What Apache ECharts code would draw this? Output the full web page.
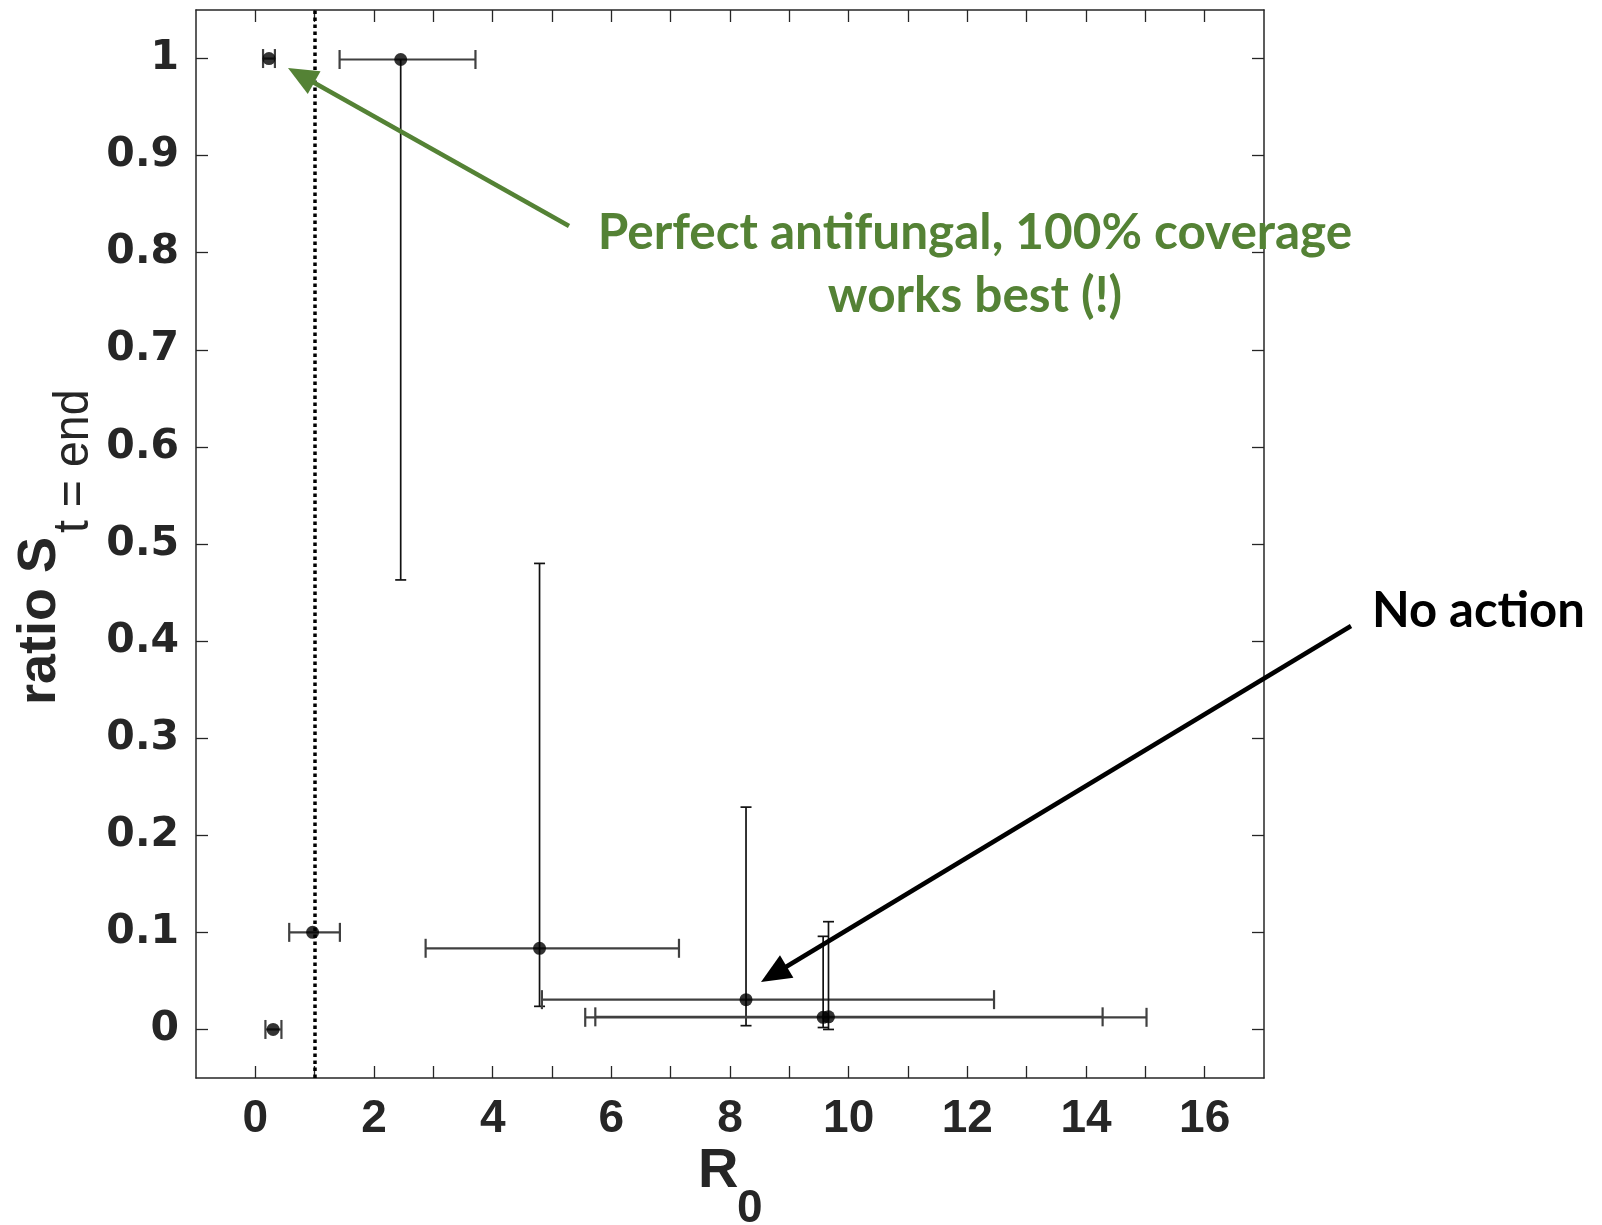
<!DOCTYPE html>
<html>
<head>
<meta charset="utf-8">
<title>ratio S vs R0</title>
<script src="https://cdn.jsdelivr.net/npm/echarts@6/dist/echarts.min.js"></script>
<style>
  html, body { margin: 0; padding: 0; background: #ffffff; }
  #chart { width: 1602px; height: 1225px; }
</style>
</head>
<body>
<div id="chart"></div>
<script>
// Scenario results: basic reproduction number R0 vs. final susceptible ratio
const r0      = [0.23, 2.45, 0.965, 0.30, 4.79, 8.27, 9.57, 9.66];
const ratio   = [1.00, 0.999, 0.100, 0.000, 0.0836, 0.0307, 0.0125, 0.0130];
// horizontal error bar extents (R0)
const r0Lo    = [0.13, 1.42, 0.571, 0.17, 2.87, 4.83, 5.56, 5.73];
const r0Hi    = [0.33, 3.71, 1.425, 0.44, 7.14, 12.45, 15.02, 14.28];
// vertical error bar extents (ratio)
const ratioLo = [1.00, 0.463, 0.100, 0.000, 0.0238, 0.0039, 0.002, 0.000];
const ratioHi = [1.00, 0.999, 0.100, 0.000, 0.480, 0.229, 0.0959, 0.111];

// epidemic threshold
const threshold = 1;

// axis ticks and labels
const xTicks  = [0, 1, 2, 3, 4, 5, 6, 7, 8, 9, 10, 11, 12, 13, 14, 15, 16];
const xLabels = [0, 2, 4, 6, 8, 10, 12, 14, 16];
const yTicks  = [0, 0.1, 0.2, 0.3, 0.4, 0.5, 0.6, 0.7, 0.8, 0.9, 1];

const axisColor = '#262626';
const xTickFont = { fontFamily: 'Liberation Sans', fontWeight: 'bold', fontSize: 46, color: axisColor };
const yTickFont = { fontFamily: 'DejaVu Sans', fontWeight: 'bold', fontSize: 41, color: axisColor };

const points = r0.map((x, i) => [x, ratio[i]]);
const bars = r0.map((x, i) => [x, ratio[i], r0Lo[i], r0Hi[i], ratioLo[i], ratioHi[i]]);

function renderErrorBar(params, api) {
  const x = api.value(0), y = api.value(1);
  const xl = api.value(2), xh = api.value(3);
  const yl = api.value(4), yh = api.value(5);
  const c = api.coord([x, y]);
  const pL = api.coord([xl, y]), pR = api.coord([xh, y]);
  const pB = api.coord([x, yl]), pT = api.coord([x, yh]);
  const hStyle = { stroke: '#404040', lineWidth: 2.2 };
  const vStyle = { stroke: '#111111', lineWidth: 1.7 };
  const capH = 9.5, capV = 5.5;
  const kids = [];
  if (xh > xl) {
    kids.push({ type: 'line', shape: { x1: pL[0], y1: c[1], x2: pR[0], y2: c[1] }, style: hStyle });
    kids.push({ type: 'line', shape: { x1: pL[0], y1: c[1] - capH, x2: pL[0], y2: c[1] + capH }, style: hStyle });
    kids.push({ type: 'line', shape: { x1: pR[0], y1: c[1] - capH, x2: pR[0], y2: c[1] + capH }, style: hStyle });
  }
  if (yh > yl) {
    kids.push({ type: 'line', shape: { x1: c[0], y1: pB[1], x2: c[0], y2: pT[1] }, style: vStyle });
    if (yl < y) kids.push({ type: 'line', shape: { x1: c[0] - capV, y1: pB[1], x2: c[0] + capV, y2: pB[1] }, style: vStyle });
    if (yh > y) kids.push({ type: 'line', shape: { x1: c[0] - capV, y1: pT[1], x2: c[0] + capV, y2: pT[1] }, style: vStyle });
  }
  return { type: 'group', children: kids };
}

// straight arrow with a filled triangular head
function arrow(x1, y1, x2, y2, color, width, headLen, headHalf) {
  const dx = x2 - x1, dy = y2 - y1;
  const len = Math.sqrt(dx * dx + dy * dy);
  const ux = dx / len, uy = dy / len;
  const bx = x2 - ux * headLen, by = y2 - uy * headLen;
  const nx = -uy, ny = ux;
  return [
    { type: 'line', shape: { x1: x1, y1: y1, x2: bx + ux * 2, y2: by + uy * 2 }, style: { stroke: color, lineWidth: width }, z: 50 },
    { type: 'polygon', shape: { points: [[x2, y2], [bx + nx * headHalf, by + ny * headHalf], [bx - nx * headHalf, by - ny * headHalf]] }, style: { fill: color }, z: 50 }
  ];
}

const green = '#548235';

const chart = echarts.init(document.getElementById('chart'), null, { renderer: 'canvas' });

const baseX = {
  type: 'value', min: -1, max: 17,
  splitLine: { show: false },
  axisLine: { show: true, onZero: false, lineStyle: { color: axisColor, width: 1.5 } },
  axisTick: { show: true, inside: true, length: 12, customValues: xTicks, lineStyle: { color: axisColor, width: 1.3 } }
};
const baseY = {
  type: 'value', min: -0.05, max: 1.05,
  splitLine: { show: false },
  axisLine: { show: true, onZero: false, lineStyle: { color: axisColor, width: 1.5 } },
  axisTick: { show: true, inside: true, length: 12, customValues: yTicks, lineStyle: { color: axisColor, width: 1.3 } }
};

chart.setOption({
  animation: false,
  backgroundColor: '#ffffff',
  grid: { left: 196, top: 10, width: 1068, height: 1068, containLabel: false },
  xAxis: [
    Object.assign({}, baseX, {
      position: 'bottom',
      axisLabel: Object.assign({ margin: 18, customValues: xLabels, formatter: v => String(Math.round(v)) }, xTickFont)
    }),
    Object.assign({}, baseX, { position: 'top', axisLabel: { show: false } })
  ],
  yAxis: [
    Object.assign({}, baseY, {
      position: 'left',
      axisLabel: Object.assign({ margin: 17, customValues: yTicks, formatter: v => String(+v.toFixed(1)) }, yTickFont)
    }),
    Object.assign({}, baseY, { position: 'right', axisLabel: { show: false } })
  ],
  series: [
    {
      type: 'custom',
      name: 'error',
      renderItem: renderErrorBar,
      data: bars,
      encode: { x: 0, y: 1 },
      z: 3,
      silent: true,
      markLine: {
        silent: true,
        symbol: ['none', 'none'],
        label: { show: false },
        lineStyle: { color: '#000000', width: 3.5, type: [3.5, 3.5] },
        data: [{ xAxis: threshold }]
      }
    },
    {
      type: 'scatter',
      name: 'mean',
      data: points,
      symbol: 'circle',
      symbolSize: 13,
      itemStyle: { color: '#000000' },
      z: 5
    }
  ],
  graphic: [
    // y-axis title: ratio S_{t = end}
    {
      type: 'group', x: 67, y: 705, rotation: Math.PI / 2,
      children: [
        { type: 'text', x: 0, y: 0, style: { text: 'ratio S', font: 'bold 54px "Liberation Sans"', fill: axisColor, align: 'left', verticalAlign: 'bottom' } },
        { type: 'text', x: 172, y: 32, scaleX: 0.93, style: { text: 't = end', font: '50px "Liberation Sans"', fill: axisColor, align: 'left', verticalAlign: 'bottom' } }
      ]
    },
    // x-axis title: R_0
    { type: 'text', x: 698, y: 1200, style: { text: 'R', font: 'bold 56px "Liberation Sans"', fill: axisColor, align: 'left', verticalAlign: 'bottom' } },
    { type: 'text', x: 737, y: 1232, style: { text: '0', font: 'bold 46px "Liberation Sans"', fill: axisColor, align: 'left', verticalAlign: 'bottom' } },
    // annotations
    { type: 'text', x: 975, y: 233, z: 60, style: { text: 'Perfect antifungal, 100% coverage', font: 'bold 49.5px Lato', fill: green, align: 'center', verticalAlign: 'middle' } },
    { type: 'text', x: 975, y: 296, z: 60, style: { text: 'works best (!)', font: 'bold 49.5px Lato', fill: green, align: 'center', verticalAlign: 'middle' } },
    { type: 'text', x: 1372, y: 611, z: 60, style: { text: 'No action', font: 'bold 49px Lato', fill: '#000000', align: 'left', verticalAlign: 'middle' } }
  ].concat(arrow(569, 226, 288, 68, green, 4.5, 30, 13))
   .concat(arrow(1351, 626, 761, 982, '#000000', 4.5, 30, 13))
});
</script>
</body>
</html>
